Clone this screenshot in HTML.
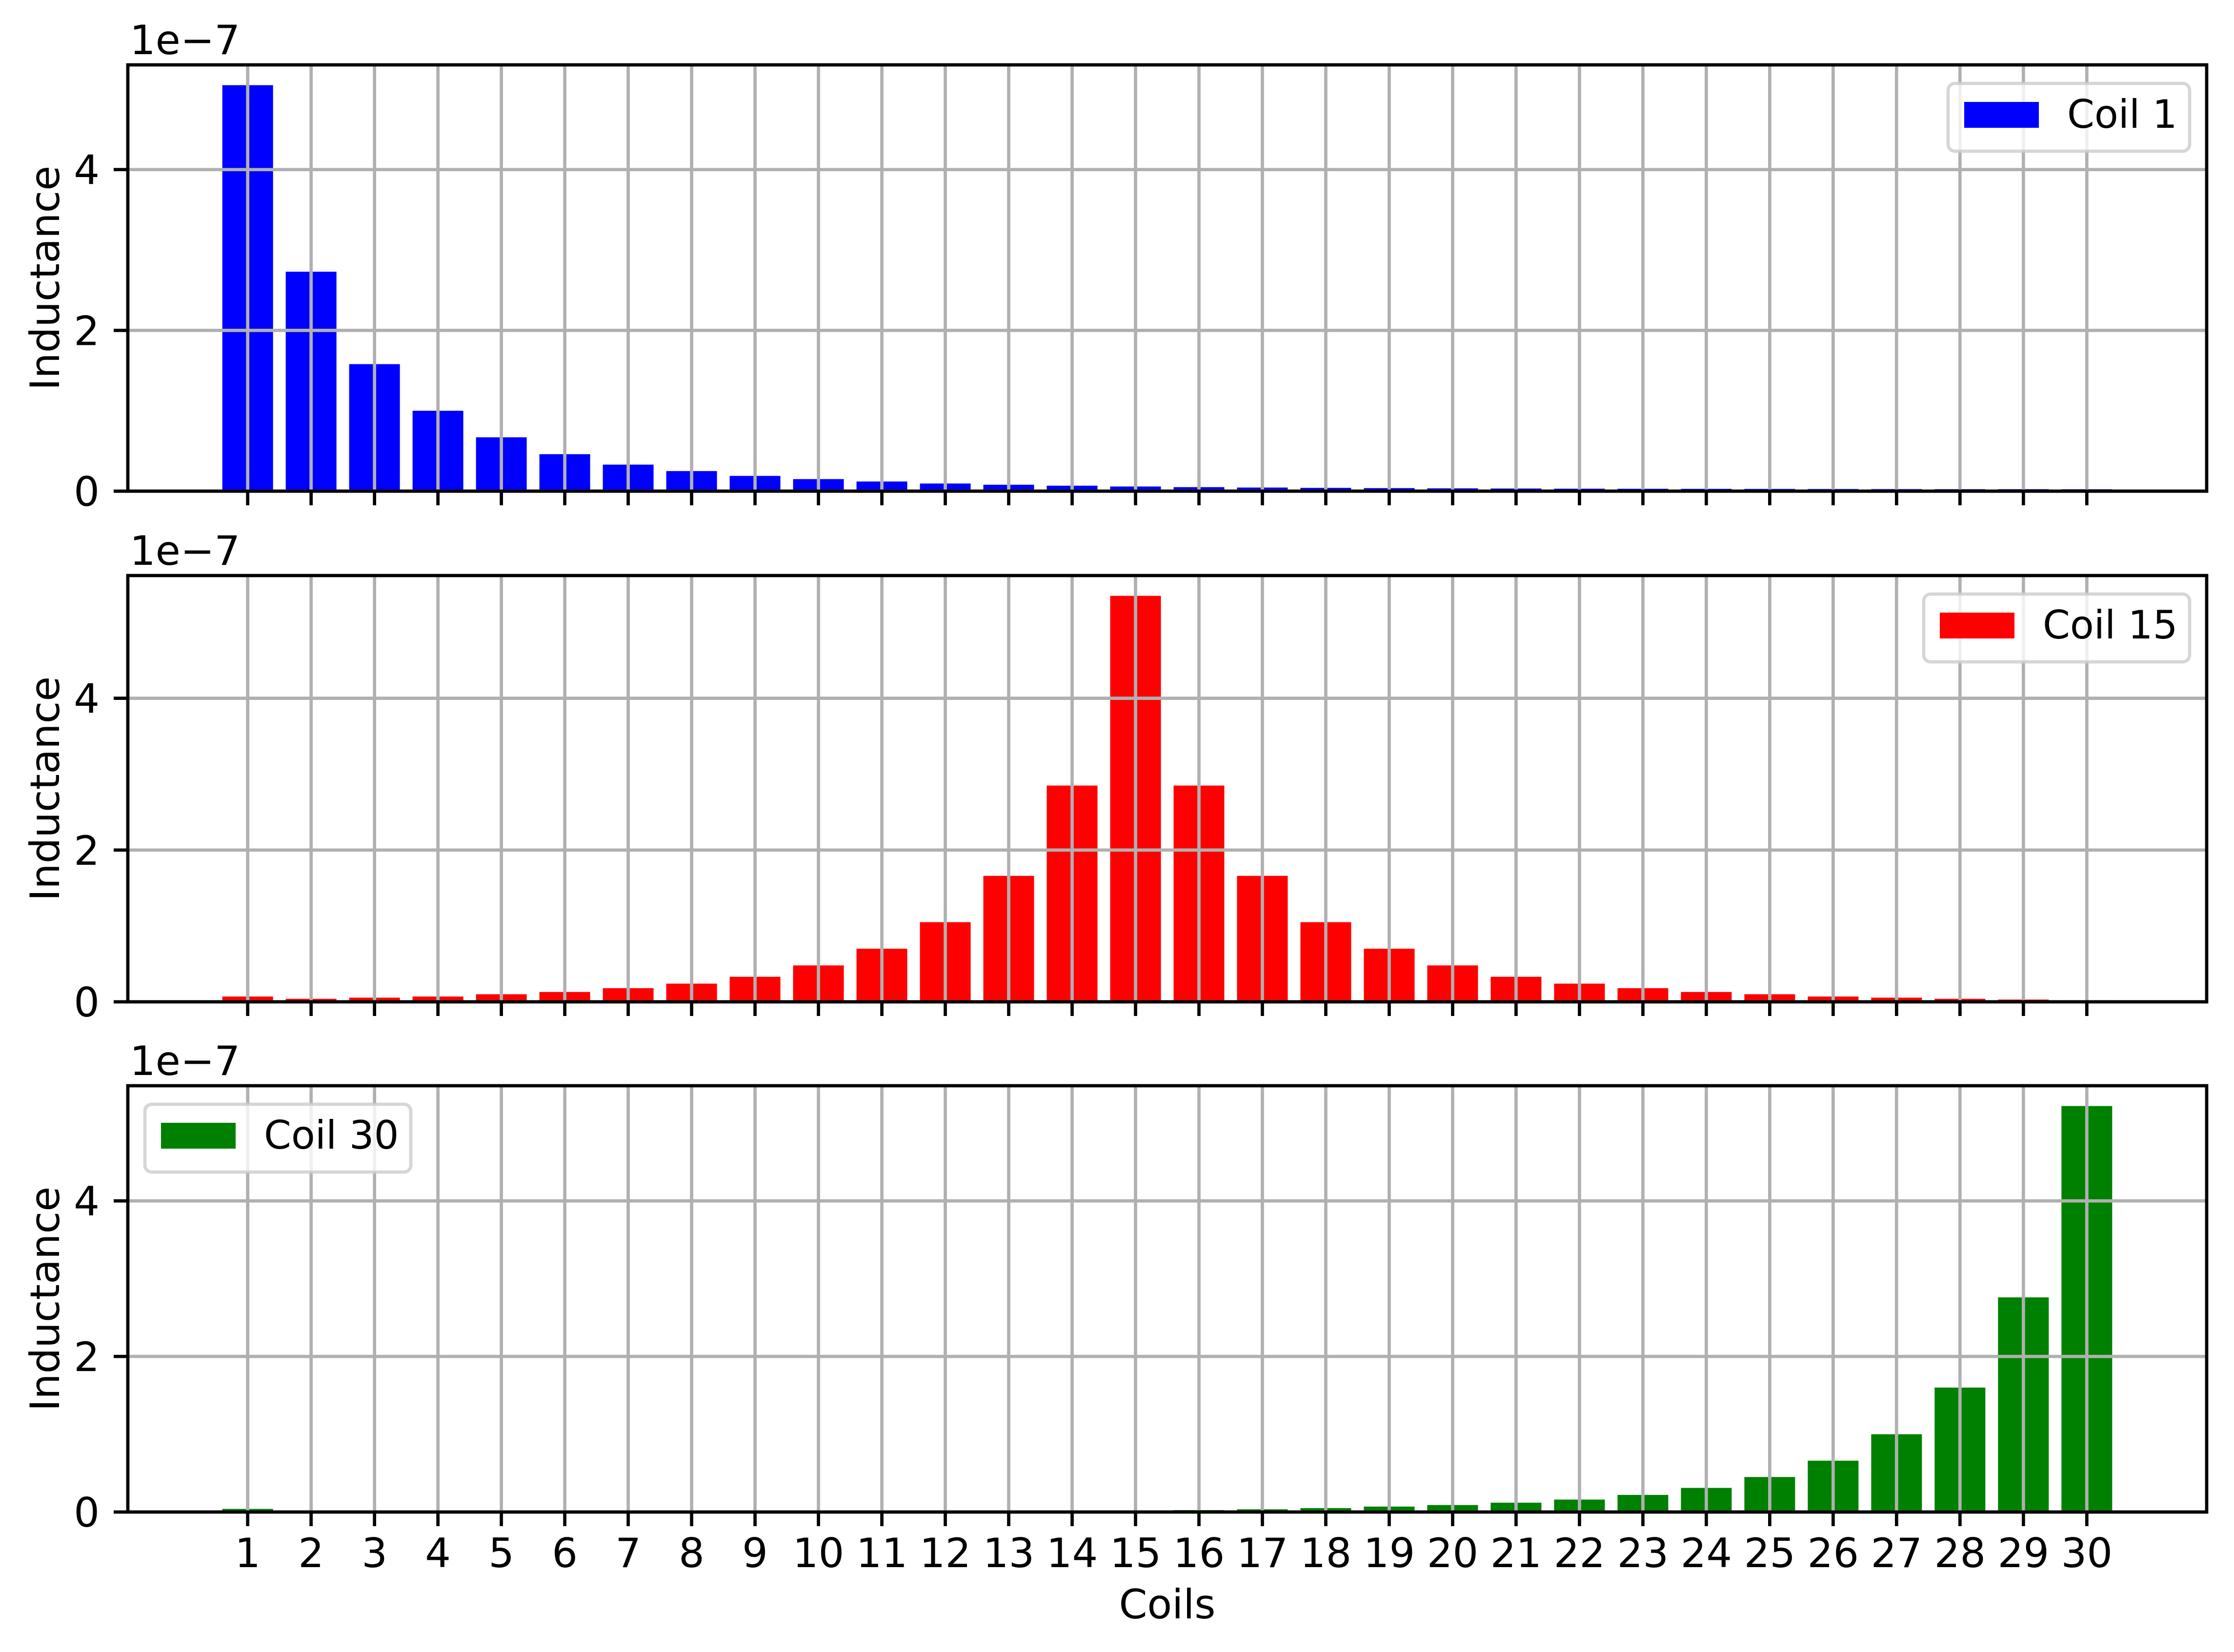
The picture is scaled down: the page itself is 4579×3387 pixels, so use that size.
<!DOCTYPE html>
<html><head><meta charset="utf-8"><style>
html,body{margin:0;padding:0;background:#fff}
svg{display:block;font-family:"DejaVu Sans","Liberation Sans",sans-serif}
</style></head><body>
<svg id="fig" width="4579" height="3387" viewBox="0 0 4579 3387" xmlns="http://www.w3.org/2000/svg">
<rect width="4579" height="3387" fill="#fff"/>
</svg>
<script>
const categories = [1,2,3,4,5,6,7,8,9,10,11,12,13,14,15,16,17,18,19,20,21,22,23,24,25,26,27,28,29,30];
const coil1 = [5.05,2.73,1.58,1.0,0.67,0.46,0.33,0.25,0.19,0.15,0.12,0.095,0.08,0.068,0.058,0.05,0.045,0.041,0.038,0.035,0.033,0.031,0.03,0.029,0.028,0.027,0.026,0.025,0.025,0.024];
const coil15 = [0.07,0.04,0.055,0.07,0.10,0.13,0.18,0.24,0.33,0.48,0.70,1.05,1.66,2.85,5.35,2.85,1.66,1.05,0.70,0.48,0.33,0.24,0.18,0.13,0.10,0.07,0.055,0.04,0.03,0.02];
const coil30 = [0.04,0.005,0.005,0.005,0.005,0.005,0.005,0.005,0.005,0.005,0.005,0.005,0.005,0.005,0.02,0.025,0.035,0.05,0.07,0.09,0.12,0.16,0.22,0.31,0.45,0.66,1.00,1.60,2.76,5.22];
const yTicks = [0,2,4];
const seriesNames = ["Coil 1","Coil 15","Coil 30"];
const seriesColors = ["#0000ff","#ff0000","#008000"];

const svg = document.getElementById('fig');
const NS = 'http://www.w3.org/2000/svg';
function mk(tag, attrs, parent){const e=document.createElementNS(NS,tag);for(const k in attrs)e.setAttribute(k,attrs[k]);(parent||svg).appendChild(e);return e;}

const L=262, R=4523, FS=83, LW=6.7, TL=29;
const panels=[{top:133,bot:1007,data:coil1,leg:'right'},{top:1180,bot:2054,data:coil15,leg:'right'},{top:2226,bot:3100,data:coil30,leg:'left'}];
const xmin=-0.89, xmax=31.89;
const xs = v => L + (v - xmin)/(xmax - xmin)*(R-L);

panels.forEach((p,pi)=>{
  const g=mk('g',{});
  
  
  const ymax=Math.max(...p.data)*1.05;
  const ys = v => p.bot - v/ymax*(p.bot-p.top);
  const bw=(xs(1)-xs(0))*0.8;
  p.data.forEach((v,i)=>{
    const b=mk('rect',{x:xs(categories[i])-bw/2,y:ys(v),width:bw,height:p.bot-ys(v),fill:seriesColors[pi]},g);
    
    
  });
  categories.forEach(c=>{
    const l=mk('line',{x1:xs(c),x2:xs(c),y1:p.top,y2:p.bot,stroke:'#b0b0b0','stroke-width':LW},g);
    
    
  });
  yTicks.forEach(t=>{
    const l=mk('line',{x1:L,x2:R,y1:ys(t),y2:ys(t),stroke:'#b0b0b0','stroke-width':LW},g);
    
    
    const tk=mk('line',{x1:L-TL,x2:L,y1:ys(t),y2:ys(t),stroke:'#000','stroke-width':LW},g);
    
    
    const tx=mk('text',{x:L-TL-29,y:ys(t)+30,'font-size':FS,'text-anchor':'end'},g);
    tx.textContent=String(t);
    
    
  });
  categories.forEach(c=>{
    const tk=mk('line',{x1:xs(c),x2:xs(c),y1:p.bot,y2:p.bot+TL,stroke:'#000','stroke-width':LW},g);
    
    
    if(pi===2){
      const tx=mk('text',{x:xs(c),y:p.bot+TL+84,'font-size':FS,'text-anchor':'middle'},g);
      tx.textContent=String(c);
      
      
    }
  });
  const fr=mk('rect',{x:L,y:p.top,width:R-L,height:p.bot-p.top,fill:'none',stroke:'#000','stroke-width':LW},g);
  
  
  const off=mk('text',{x:266,y:p.top-22,'font-size':FS},g);
  off.textContent='1e\u22127';
  
  
  const cy=(p.top+p.bot)/2;
  const yl=mk('text',{x:0,y:0,'font-size':FS,'text-anchor':'middle',transform:`translate(121 ${cy}) rotate(-90)`},g);
  yl.textContent='Inductance';
  
  
  const name=seriesNames[pi];
  const lw = name.length>6 ? 545 : 495;
  const lx = p.leg==='right' ? 4488-lw : 297;
  const lyTop = p.top+38;
  const lg=mk('g',{},g);
  
  
  mk('rect',{x:lx,y:lyTop,width:lw,height:139,rx:14,fill:'rgba(255,255,255,0.8)',stroke:'rgba(204,204,204,0.8)','stroke-width':LW},lg);
  const pt=mk('rect',{x:lx+33,y:lyTop+38,width:153,height:53,fill:seriesColors[pi]},lg);
  
  
  const lt=mk('text',{x:lx+244,y:lyTop+91,'font-size':FS-3},lg);
  lt.textContent=name;
  
  
});
const xl=mk('text',{x:(L+R)/2,y:3318,'font-size':FS,'text-anchor':'middle'});
xl.textContent='Coils';


</script>
</body></html>
